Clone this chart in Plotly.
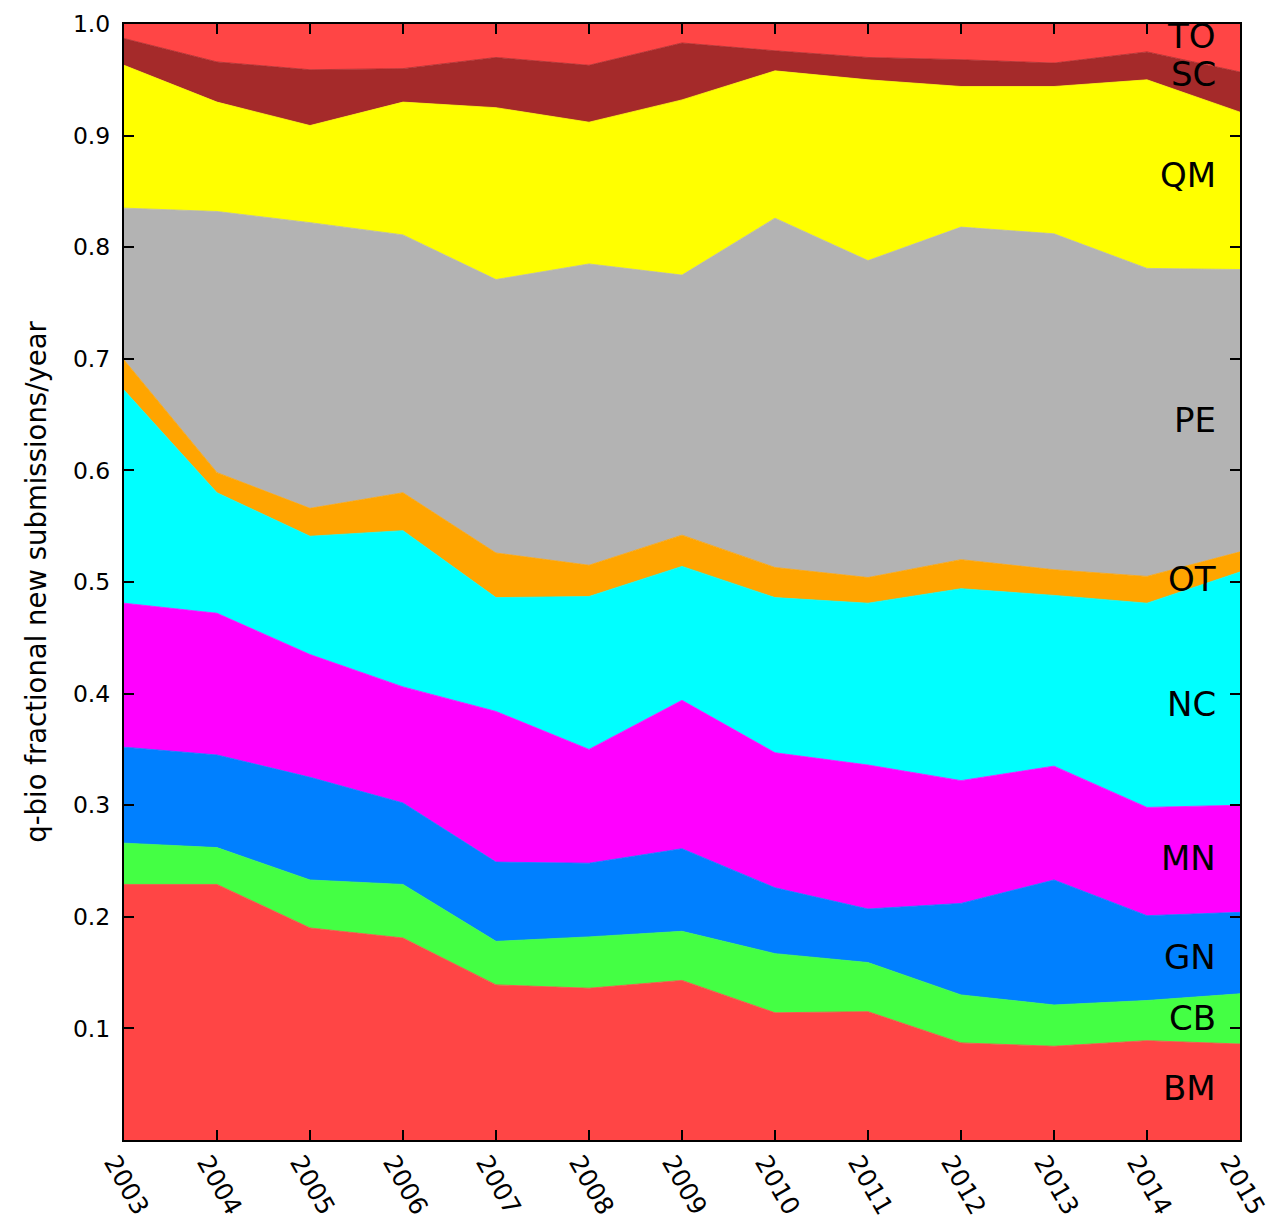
import plotly.graph_objects as go

years = [2003, 2004, 2005, 2006, 2007, 2008, 2009, 2010, 2011, 2012, 2013, 2014, 2015]

# fraction of q-bio new submissions per year, by sub-category (stacked bottom -> top)
BM = [0.229, 0.229, 0.190, 0.181, 0.139, 0.136, 0.143, 0.114, 0.115, 0.087, 0.084, 0.089, 0.086]
CB = [0.037, 0.033, 0.043, 0.048, 0.039, 0.046, 0.044, 0.053, 0.044, 0.043, 0.037, 0.036, 0.045]
GN = [0.086, 0.083, 0.092, 0.073, 0.071, 0.066, 0.074, 0.059, 0.048, 0.082, 0.112, 0.076, 0.073]
MN = [0.129, 0.127, 0.110, 0.104, 0.135, 0.102, 0.133, 0.121, 0.129, 0.110, 0.102, 0.097, 0.096]
NC = [0.191, 0.108, 0.106, 0.140, 0.102, 0.137, 0.120, 0.139, 0.145, 0.172, 0.153, 0.183, 0.209]
OT = [0.027, 0.018, 0.025, 0.034, 0.040, 0.028, 0.028, 0.027, 0.023, 0.026, 0.023, 0.024, 0.018]
PE = [0.136, 0.234, 0.256, 0.231, 0.245, 0.270, 0.233, 0.313, 0.284, 0.298, 0.301, 0.276, 0.253]
QM = [0.128, 0.098, 0.087, 0.119, 0.154, 0.127, 0.157, 0.132, 0.162, 0.126, 0.132, 0.169, 0.141]
SC = [0.024, 0.036, 0.050, 0.030, 0.045, 0.051, 0.051, 0.018, 0.020, 0.024, 0.021, 0.025, 0.036]
TO = [0.013, 0.034, 0.041, 0.040, 0.030, 0.037, 0.017, 0.024, 0.030, 0.032, 0.035, 0.025, 0.043]

categories = ["BM", "CB", "GN", "MN", "NC", "OT", "PE", "QM", "SC", "TO"]
series = [BM, CB, GN, MN, NC, OT, PE, QM, SC, TO]
colors = ["#ff4545", "#44ff44", "#0080ff", "#ff00ff", "#00ffff",
          "#ffa500", "#b3b3b3", "#ffff00", "#a52a2a", "#ff4545"]

# label anchor heights (data units) for the in-plot category labels
label_y = [0.047, 0.109, 0.164, 0.253, 0.391, 0.503, 0.645, 0.865, 0.955, 0.989]
label_x = 2014.76

ytick_vals = [0.1, 0.2, 0.3, 0.4, 0.5, 0.6, 0.7, 0.8, 0.9, 1.0]
ytick_text = ["0.1", "0.2", "0.3", "0.4", "0.5", "0.6", "0.7", "0.8", "0.9", "1.0"]
xtick_text = [str(y) for y in years]

FONT = "DejaVu Sans"

fig = go.Figure()
for name, vals, col in zip(categories, series, colors):
    fig.add_trace(go.Scatter(
        x=years, y=vals, name=name, stackgroup="one", mode="lines",
        line=dict(width=0.8, color=col), fillcolor=col, showlegend=False,
        hoverinfo="x+y+name",
    ))

for name, ly in zip(categories, label_y):
    fig.add_annotation(x=label_x, y=ly, text=name, showarrow=False,
                       xanchor="right", yanchor="middle",
                       font=dict(family=FONT, size=34, color="black"))

axis_common = dict(
    showgrid=False, zeroline=False, showline=True, linecolor="black",
    linewidth=2, mirror="ticks", ticks="inside", ticklen=10, tickwidth=1.5,
    tickcolor="black", automargin=False,
)

fig.update_layout(
    width=1269, height=1213,
    margin=dict(l=116, r=37, t=16, b=81),
    paper_bgcolor="white", plot_bgcolor="white",
    font=dict(family=FONT, color="black"),
    xaxis=dict(range=[2003, 2015], tickvals=years, ticktext=xtick_text,
               tickangle=60, ticklabelshift=-10, ticklabelstandoff=-4,
               tickfont=dict(family=FONT, size=25, color="black"),
               **axis_common),
    yaxis=dict(range=[0, 1], tickvals=ytick_vals, ticktext=ytick_text,
               ticklabelstandoff=7,
               tickfont=dict(family=FONT, size=23.5, color="black"),
               title=dict(text="q-bio fractional new submissions/year",
                          font=dict(family=FONT, size=27.5, color="black"),
                          standoff=18),
               **axis_common),
)

fig.write_html("out.html")
